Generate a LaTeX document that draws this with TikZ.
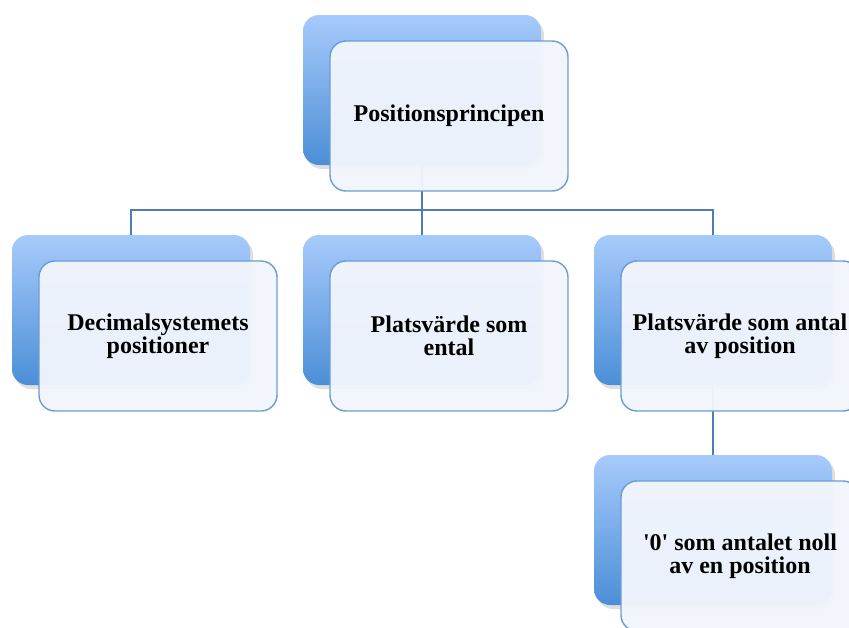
\documentclass[tikz,border=0pt]{standalone}
\usepackage{fontspec}
\setmainfont{Liberation Serif}
\usetikzlibrary{shadows}
\definecolor{boxtop}{HTML}{A7CAFB}
\definecolor{boxbottom}{HTML}{4B8FD7}
\definecolor{frontfill}{HTML}{F1F5FC}
\definecolor{frontline}{HTML}{6C9CD2}
\definecolor{linkline}{HTML}{4C7DB8}

\begin{document}
\begin{tikzpicture}[x=1pt,y=-1pt,
  backbox/.style={rectangle, rounded corners=16pt, minimum width=238pt, minimum height=150pt,
    top color=boxtop, bottom color=boxbottom,
    drop shadow={opacity=0.25, shadow xshift=3pt, shadow yshift=-4pt}},
  frontbox/.style={rectangle, rounded corners=16pt, minimum width=238pt, minimum height=150pt,
    draw=frontline, line width=1.4pt, fill=frontfill, fill opacity=0.96, text opacity=1,
    align=flush center, text width=226pt, font=\fontsize{24}{23}\selectfont\bfseries},
  link/.style={draw=linkline, line width=1.2pt}]
  \useasboundingbox (0,0) rectangle (849,627);
  \clip (0,0) rectangle (849,627);

  % back boxes
  \node[backbox] (topb) at (422,90) {};
  \node[backbox] (decb) at (131,310) {};
  \node[backbox] (entb) at (422,310) {};
  \node[backbox] (antb) at (713,310) {};
  \node[backbox] (nollb) at (713,530) {};

  % connectors
  \coordinate (bus) at (0,210);
  \draw[link] (topb.south) -- (topb.south |- bus);
  \draw[link] (decb.north) -- (decb.north |- bus) -- (antb.north |- bus) -- (antb.north);
  \draw[link] (entb.north) -- (entb.north |- bus);
  \draw[link] (antb.south) -- (nollb.north);

  % front boxes
  \node[frontbox] (topf) at (449,116) {Positionsprincipen};
  \node[frontbox] (decf) at (158,336) {Decimalsystemets\\positioner};
  \node[frontbox] (entf) at (449,336) {Platsvärde som\\ental};
  \node[frontbox] (antf) at (740,336) {Platsvärde som antal\\av position};
  \node[frontbox] (nollf) at (740,556) {\textquotesingle0\textquotesingle{} som antalet noll\\av en position};
\end{tikzpicture}
\end{document}
